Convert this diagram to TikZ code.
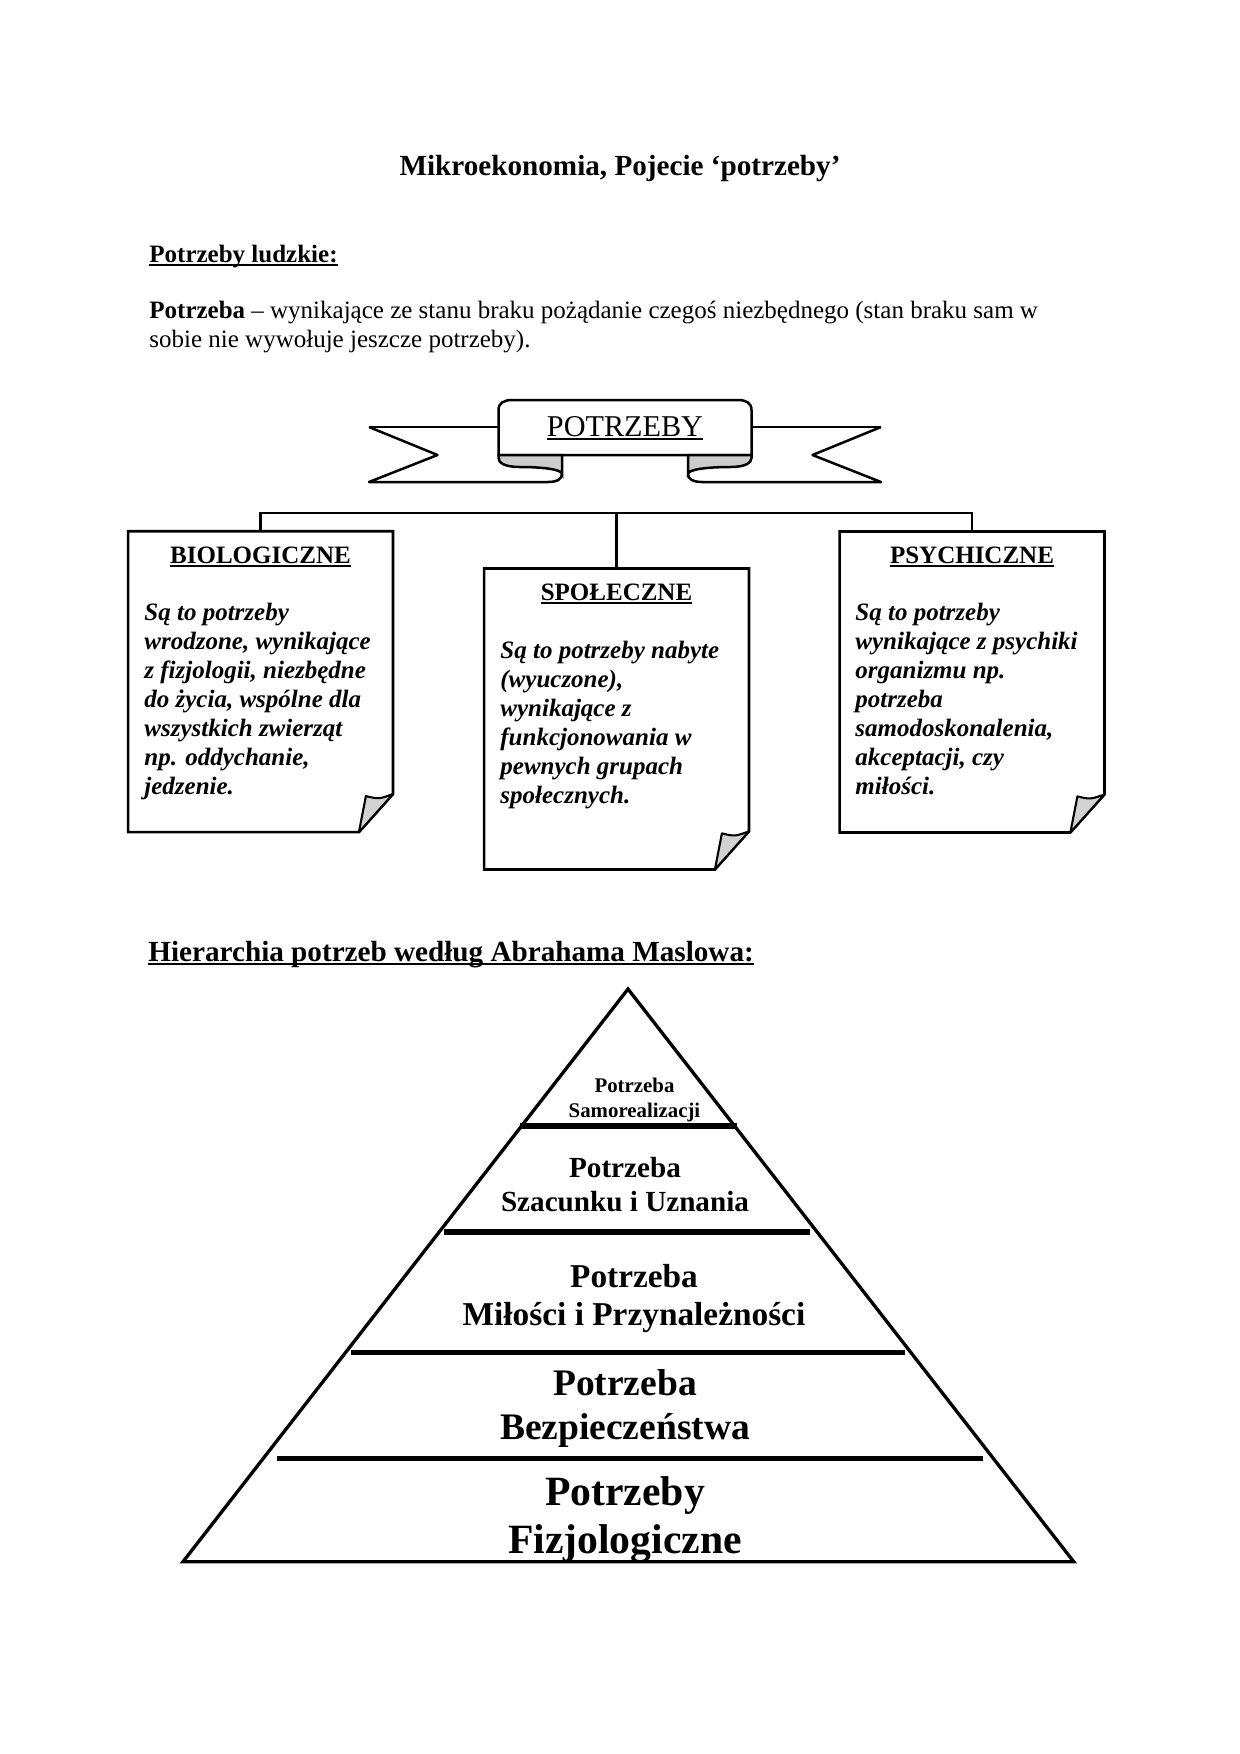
\documentclass[tikz,border=0pt]{standalone}
\usepackage{fontspec}
\setmainfont{Liberation Serif}
\usetikzlibrary{calc}

\newcommand{\podkr}[1]{\setbox0=\hbox{#1}\rlap{\raisebox{-2pt}{\rule{\wd0}{0.9pt}}}\box0}

\tikzset{
  ribbon/.style={line width=1.2pt, line join=round},
  foldgrey/.style={line width=1.2pt, fill=gray!40},
  notebox/.style={minimum width=126.7pt, minimum height=144pt, inner sep=0pt},
  noteline/.style={line width=1.3pt},
  cornerfold/.style={line width=1pt, fill=gray!35, line join=round},
  boxhead/.style={font=\fontsize{12}{14}\selectfont\bfseries, anchor=base, inner sep=0pt},
  boxtext/.style={font=\fontsize{12}{13.9}\selectfont\bfseries\itshape, align=left, anchor=north west, inner sep=0pt},
  level/.style={align=center, inner sep=0pt},
  bar/.style={line width=2.7pt}
}

\begin{document}
\begin{tikzpicture}[x=0.48pt, y=-0.48pt]
        \useasboundingbox (0,0) rectangle (1240,1754);

        % nagłówki
        \node[anchor=base, inner sep=0pt, font=\fontsize{14}{16}\selectfont\bfseries] (tytul) at (620,175) {Mikroekonomia, Pojecie ‘potrzeby’};
        \node[anchor=base west, inner sep=0pt, font=\fontsize{12}{14}\selectfont\bfseries] (ludzkie) at (149,262) {\podkr{Potrzeby ludzkie:}};
        \node[anchor=base west, inner sep=0pt, font=\fontsize{12}{14}\selectfont] (def1) at (149,318) {\textbf{Potrzeba} – wynikające ze stanu braku pożądanie czegoś niezbędnego (stan braku sam w};
        \node[anchor=base west, inner sep=0pt, font=\fontsize{12}{14}\selectfont] (def2) at (149,347) {sobie nie wywołuje jeszcze potrzeby).};

        % wstążka - ogony
        \draw[ribbon] (369,427) -- (498.5,427);
        \draw[ribbon] (369,427) -- (437.5,455) -- (369,482) -- (548,482) .. controls (557,482) and (562,479) .. (562,474);
        \begin{scope}[shift={(1250,0)}, xscale=-1]
            \draw[ribbon] (369,427) -- (498.5,427);
            \draw[ribbon] (369,427) -- (437.5,455) -- (369,482) -- (548,482) .. controls (557,482) and (562,479) .. (562,474);
        \end{scope}

        % wstążka - środek
        \filldraw[ribbon, fill=white] (498.5,455) -- (498.5,410) .. controls (498.5,403) and (504,400) .. (512,400) -- (738,400) .. controls (746,400) and (751.5,403) .. (751.5,410) -- (751.5,455) -- cycle;

        % zawinięcia
        \filldraw[foldgrey] (498.5,455) -- (562,455) -- (562,474) .. controls (562,469) and (540,467) .. (520,467) .. controls (505,467) and (498.5,463) .. (498.5,458) -- cycle;
        \begin{scope}[shift={(1250,0)}, xscale=-1]
            \filldraw[foldgrey] (498.5,455) -- (562,455) -- (562,474) .. controls (562,469) and (540,467) .. (520,467) .. controls (505,467) and (498.5,463) .. (498.5,458) -- cycle;
        \end{scope}

        \node[font=\fontsize{14.5}{17}\selectfont, anchor=base, inner sep=0pt] (potrzeby) at (625,436) {\podkr{POTRZEBY}};

        % ramki
        \node[notebox] (bio) at (260.5,681.7) {};
        \node[notebox] (spo) at (616.5,719) {};
        \node[notebox] (psy) at (972,682) {};

        \foreach \n in {bio,spo,psy} {
            \draw[noteline] (\n.north west) -- (\n.north east) -- ($(\n.south east)+(0,-38)$) -- ($(\n.south east)+(-34,0)$) -- (\n.south west) -- cycle;
            \filldraw[cornerfold] ($(\n.south east)+(0,-38)$) -- ($(\n.south east)+(-34,0)$) -- ($(\n.south east)+(-27,-36)$) .. controls ($(\n.south east)+(-14,-33)$) .. ($(\n.south east)+(0,-38)$) -- cycle;
        }

        % połączenia
        \coordinate (belka) at (616.5,513);
        \draw[line width=1pt] (bio.north) |- (belka) -| (psy.north);
        \draw[line width=1pt] (belka) -- (spo.north);

        % teksty w ramkach
        \node[boxhead] (biotyt) at (260.5,563) {\podkr{BIOLOGICZNE}};
        \node[boxhead] (spotyt) at (616.5,600) {\podkr{SPOŁECZNE}};
        \node[boxhead] (psytyt) at (972,563) {\podkr{PSYCHICZNE}};

        \node[boxtext] (biotxt) at (144,603) {Są to potrzeby\\wrodzone, wynikające\\z fizjologii, niezbędne\\do życia, wspólne dla\\wszystkich zwierząt\\np. oddychanie,\\jedzenie.};
        \node[boxtext] (spotxt) at (500,641) {Są to potrzeby nabyte\\(wyuczone),\\wynikające z\\funkcjonowania w\\pewnych grupach\\społecznych.};
        \node[boxtext] (psytxt) at (855,603) {Są to potrzeby\\wynikające z psychiki\\organizmu np.\\potrzeba\\samodoskonalenia,\\akceptacji, czy\\miłości.};

        % hierarchia
        \node[anchor=base west, inner sep=0pt, font=\fontsize{14}{16}\selectfont\bfseries] (maslow) at (148,961) {\podkr{Hierarchia potrzeb według Abrahama Maslowa:}};

        % piramida
        \draw[line width=1.6pt, line join=miter] (628,989) -- (1073.7,1561.7) -- (183,1561.7) -- cycle;
        \foreach \y/\a/\b in {1126/520/737, 1231.7/444.4/810, 1352.3/350.7/905.3, 1458.3/276.8/982.8}
            \draw[bar] (\a,\y) -- (\b,\y);

        \node[level, font=\fontsize{10}{11.8}\selectfont\bfseries] (poz1) at (634.5,1100) {Potrzeba\\Samorealizacji};
        \node[level, font=\fontsize{14}{16.3}\selectfont\bfseries] (poz2) at (625,1185) {Potrzeba\\Szacunku i Uznania};
        \node[level, font=\fontsize{16}{18.3}\selectfont\bfseries] (poz3) at (634,1298.5) {Potrzeba\\Miłości i Przynależności};
        \node[level, font=\fontsize{18}{21}\selectfont\bfseries] (poz4) at (625,1408.5) {Potrzeba\\Bezpieczeństwa};
        \node[level, font=\fontsize{20}{23}\selectfont\bfseries] (poz5) at (625,1520) {Potrzeby\\Fizjologiczne};
\end{tikzpicture}
\end{document}
